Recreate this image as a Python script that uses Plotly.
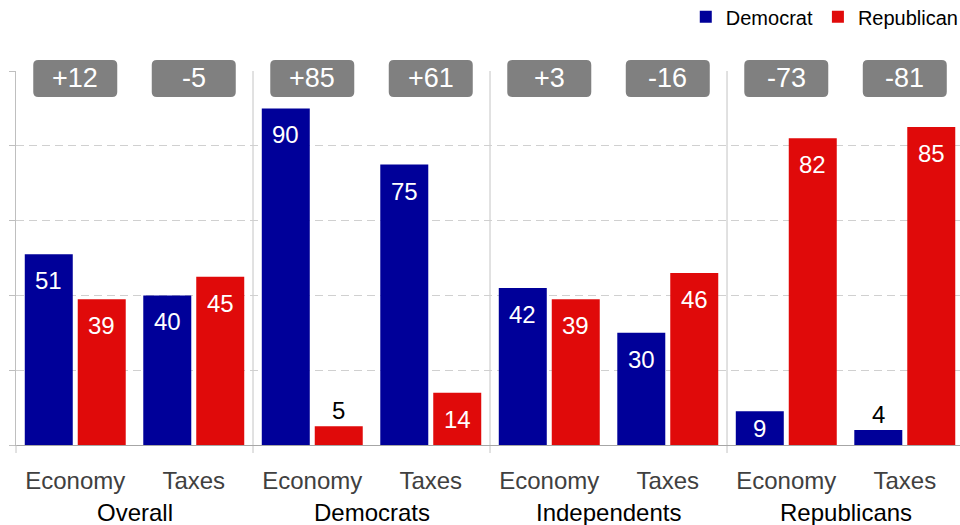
import plotly.graph_objects as go

# Survey results: who is trusted more on each issue, split by respondent group
groups = ["Overall", "Democrats", "Independents", "Republicans"]
issues = ["Economy", "Taxes"]
democrat = [51, 40, 90, 75, 42, 30, 9, 4]
republican = [39, 45, 5, 14, 39, 46, 82, 85]

DEM_COLOR = "#000099"
REP_COLOR = "#E00A0A"
FONT = "Liberation Sans, Arial, sans-serif"
BARGAP = 0.106
BARGROUPGAP = 0.094

positions = list(range(len(democrat)))
tick_text = [issues[i % len(issues)] for i in positions]
margins = [d - r for d, r in zip(democrat, republican)]

fig = go.Figure()
fig.add_trace(go.Bar(x=positions, y=democrat, name="Democrat",
                     marker=dict(color=DEM_COLOR, line=dict(width=0))))
fig.add_trace(go.Bar(x=positions, y=republican, name="Republican",
                     marker=dict(color=REP_COLOR, line=dict(width=0))))

annotations = []
# value labels: inside near the top, centred low in short bars, above tiny bars
half = (1 - BARGAP) / 4
for series, sign in ((democrat, -1), (republican, 1)):
    for i, v in enumerate(series):
        x = i + sign * half
        if v < 8:
            y, anchor, shift, color = v, "bottom", 0, "black"
        elif v < 12:
            y, anchor, shift, color = 0, "bottom", 1, "white"
        else:
            y, anchor, shift, color = v, "top", -11, "white"
        annotations.append(dict(x=x, y=y, xref="x", yref="y", text=str(v),
                                showarrow=False, yanchor=anchor, yshift=shift,
                                font=dict(size=24, color=color, family=FONT)))

# lead labels in rounded grey boxes above each pair
BOX_Y = 0.98
w, h, r = 42, 18.5, 5
box_path = (f"M{-w + r},{-h} L{w - r},{-h} Q{w},{-h} {w},{-h + r} "
            f"L{w},{h - r} Q{w},{h} {w - r},{h} L{-w + r},{h} "
            f"Q{-w},{h} {-w},{h - r} L{-w},{-h + r} Q{-w},{-h} {-w + r},{-h} Z")
shapes = []
for i, m in enumerate(margins):
    shapes.append(dict(type="path", xref="x", yref="paper",
                       xsizemode="pixel", ysizemode="pixel",
                       xanchor=i, yanchor=BOX_Y, path=box_path,
                       fillcolor="#808080", line=dict(width=0), layer="above"))
    annotations.append(dict(x=i, y=BOX_Y, xref="x", yref="paper",
                            text=f"{m:+d}", showarrow=False,
                            xanchor="center", yanchor="middle",
                            font=dict(size=27, color="white", family=FONT)))

# group separators reaching just below the baseline
SEP_LOW = -0.0214
for k in range(1, len(groups)):
    xb = k * len(issues) - 0.5
    shapes.append(dict(type="line", xref="x", yref="paper", x0=xb, x1=xb,
                       y0=SEP_LOW, y1=1, line=dict(color="#C4C4C4", width=1),
                       layer="below"))
shapes.append(dict(type="line", xref="paper", yref="paper", x0=0, x1=0,
                   y0=SEP_LOW, y1=0, line=dict(color="#C4C4C4", width=1)))

# group names under the issue labels
for k, g in enumerate(groups):
    annotations.append(dict(x=k * len(issues) + 0.5, y=-0.181, xref="x", yref="paper",
                            text=g, showarrow=False, yanchor="middle",
                            font=dict(size=24, color="black", family=FONT)))

fig.update_layout(
    width=960, height=525,
    margin=dict(l=16, r=0, t=71, b=80, autoexpand=False),
    paper_bgcolor="white", plot_bgcolor="white",
    barmode="group", bargap=BARGAP, bargroupgap=BARGROUPGAP,
    font=dict(family=FONT),
    showlegend=True,
    legend=dict(orientation="h", x=1.004, xanchor="right", y=1.197, yanchor="top",
                font=dict(size=20, color="black", family=FONT),
                bgcolor="rgba(0,0,0,0)", traceorder="normal"),
    shapes=shapes, annotations=annotations,
)
fig.update_xaxes(range=[-0.5, 7.466], tickmode="array", tickvals=positions,
                 ticktext=tick_text, ticks="", showgrid=False, zeroline=False,
                 showline=True, linecolor="#A6A6A6", linewidth=1,
                 tickfont=dict(size=24, color="#404040", family=FONT),
                 ticklabelstandoff=14, automargin=False)
fig.update_yaxes(range=[0, 100], tickmode="array", tickvals=[0, 20, 40, 60, 80, 100],
                 showticklabels=False, ticks="outside", ticklen=6,
                 tickcolor="#BFBFBF", showline=True, linecolor="#BFBFBF",
                 showgrid=True, gridcolor="#D0D0D0", griddash="8px,5px",
                 zeroline=False, automargin=False)

fig.write_html("out.html")
